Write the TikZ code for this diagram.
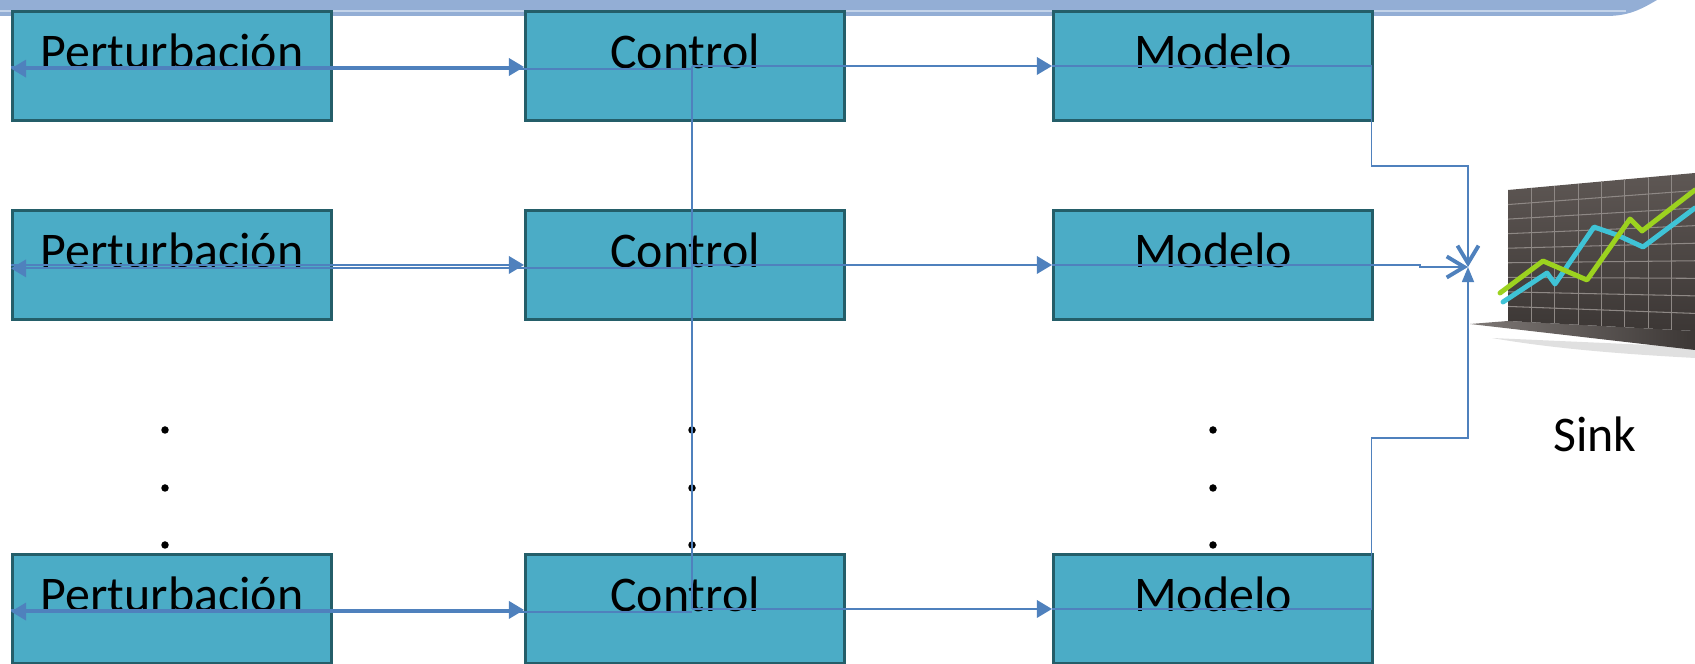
\documentclass[tikz,border=0pt]{standalone}
\usepackage{fontspec}
\setmainfont{Carlito}
\usetikzlibrary{positioning, arrows.meta, calc}

\definecolor{boxfill}{HTML}{4BACC6}
\definecolor{boxedge}{HTML}{245E69}
\definecolor{linkblue}{HTML}{4F81BD}
\definecolor{bandblue}{HTML}{93AED5}
\definecolor{bandlight}{HTML}{C4D4EA}
\definecolor{walltop}{HTML}{5E5754}
\definecolor{wallbottom}{HTML}{3C3735}
\definecolor{gridline}{HTML}{8E8885}
\definecolor{trendgreen}{HTML}{9CD21F}
\definecolor{trendcyan}{HTML}{3FC3D6}

\begin{document}
\begin{tikzpicture}[
    x=0.1mm, y=-0.1mm,
    >={Triangle[length=4.3pt, width=5pt]},
    font=\fontsize{14.2}{17}\selectfont,
    block/.style={
        draw=boxedge, fill=boxfill, line width=0.85pt,
        minimum width=3.19cm, minimum height=1.09cm,
        text height=0.424cm, text depth=0.376cm, inner sep=0pt
    },
    link/.style={draw=linkblue, line width=0.55pt},
    arrow/.style={link, ->},
    barbarrow/.style={link, -{Straight Barb[length=5pt, width=6pt, line width=1.1pt]}},
    uparrow/.style={link, -{Triangle[length=4.3pt, width=3.4pt]}},
    dot/.style={circle, fill=black, inner sep=0pt, minimum size=0.75mm}
]

\useasboundingbox (0,0) rectangle (1695,664);

% ==========================================
% TITLE BAND
% ==========================================

\fill[bandblue] (0,0) -- (1657,0) .. controls (1640,10) and (1628,16) .. (1606,16) -- (0,16) -- cycle;
\draw[bandlight, line width=0.4pt] (0,11) -- (1626,11);

% ==========================================
% BLOCKS: PERTURBACION / CONTROL / MODELO
% ==========================================

\node[block] (Pert1) at (172,66) {Perturbación};
\node[block, right=1.91cm of Pert1] (Ctrl1) {Control};
\node[block, right=2.06cm of Ctrl1] (Model1) {Modelo};

\node[block, below=0.87cm of Pert1] (Pert2) {Perturbación};
\node[block, right=1.91cm of Pert2] (Ctrl2) {Control};
\node[block, right=2.06cm of Ctrl2] (Model2) {Modelo};

\node[block, below=2.32cm of Pert2] (Pert3) {Perturbación};
\node[block, right=1.91cm of Pert3] (Ctrl3) {Control};
\node[block, right=2.06cm of Ctrl3] (Model3) {Modelo};

% dots for the omitted rows
\node[dot] (dotP1) at (165,430) {};
\node[dot] (dotP2) at (165,488) {};
\node[dot] (dotP3) at (165,545) {};
\node[dot] (dotC1) at (692,430) {};
\node[dot] (dotC2) at (692,488) {};
\node[dot] (dotC3) at (692,545) {};
\node[dot] (dotM1) at (1213,430) {};
\node[dot] (dotM2) at (1213,488) {};
\node[dot] (dotM3) at (1213,545) {};

% ==========================================
% CONNECTIONS
% ==========================================

\coordinate (bus1) at ([xshift=0.7mm]Ctrl1.center);
\coordinate (bus2) at ([xshift=0.7mm]Ctrl2.center);
\coordinate (bus3) at ([xshift=0.7mm]Ctrl3.center);

% control bus
\draw[link] (bus1) -- (bus3);

% perturbacion <-> control
\draw[arrow] ([yshift=-0.26mm]bus1) -- ([yshift=-0.26mm]Pert1.west);
\draw[arrow] ([yshift=-0.1mm]Pert1.west) -- ([yshift=-0.1mm]Ctrl1.west);
\draw[arrow] ([yshift=-0.34mm]bus2) -- ([yshift=-0.34mm]Pert2.west);
\draw[arrow] (Pert2.west) -- (Ctrl2.west);
\draw[arrow] ([yshift=-0.26mm]bus3) -- ([yshift=-0.26mm]Pert3.west);
\draw[arrow] ([yshift=-0.1mm]Pert3.west) -- ([yshift=-0.1mm]Ctrl3.west);

% control -> modelo
\draw[arrow] (bus1) -- (Model1.west);
\draw[arrow] (bus2) -- (Model2.west);
\draw[arrow] (bus3) -- (Model3.west);

% modelo -> sink
\coordinate (sinkin) at (1468,267);
\coordinate (bend1) at (1468,166);
\coordinate (jog2) at (1420,267);
\coordinate (bend3) at (1468,438);

\draw[barbarrow] (Model1.west) -- ([xshift=-0.25mm]Model1.east) |- (bend1) -- (sinkin);
\draw[barbarrow] (Model2.west) -- (Model2.east) -- (Model2.east -| jog2) -- (jog2) -- (sinkin);
\draw[uparrow] (Model3.west) -- ([xshift=-0.25mm]Model3.east) |- (bend3) -- (sinkin);

% ==========================================
% SINK: CHART
% ==========================================

\coordinate (wallTL) at (1508,190);
\coordinate (wallTR) at (1695,173);
\coordinate (wallBL) at (1508,321);
\coordinate (wallBR) at (1695,331);
\coordinate (floorL) at (1470,324);
\coordinate (floorR) at (1695,350);

% shadow under the floor
\fill[black!20, opacity=0.6] (1492,338) .. controls (1560,350) and (1640,355) .. (1695,358) -- (1695,347) -- cycle;

\shade[left color=walltop!80, right color=wallbottom] (floorL) -- (wallBL) -- (wallBR) -- (floorR) -- cycle;
\shade[top color=walltop, bottom color=wallbottom] (wallTL) -- (wallTR) -- (wallBR) -- (wallBL) -- cycle;

\foreach \i in {1,...,8}
    \draw[gridline, line width=0.3pt] ($(wallTL)!\i/9!(wallBL)$) -- ($(wallTR)!\i/9!(wallBR)$);
\foreach \k in {1,...,7}
    \draw[gridline, line width=0.3pt] ($(wallTL)!\k/8!(wallTR)$) -- ($(wallBL)!\k/8!(wallBR)$);

\draw[trendcyan, line width=1.4pt, line join=round, line cap=round]
    (1503,302) -- (1547,273) -- (1555,284) -- (1594,227) -- (1617,235) -- (1643,247) -- (1695,208);
\draw[trendgreen, line width=1.4pt, line join=round, line cap=round]
    (1500,293) -- (1543,261) -- (1587,280) -- (1630,219) -- (1642,231) -- (1695,190);

\node[anchor=base] (sinkLabel) at (1595,452) {Sink};

\end{tikzpicture}
\end{document}
